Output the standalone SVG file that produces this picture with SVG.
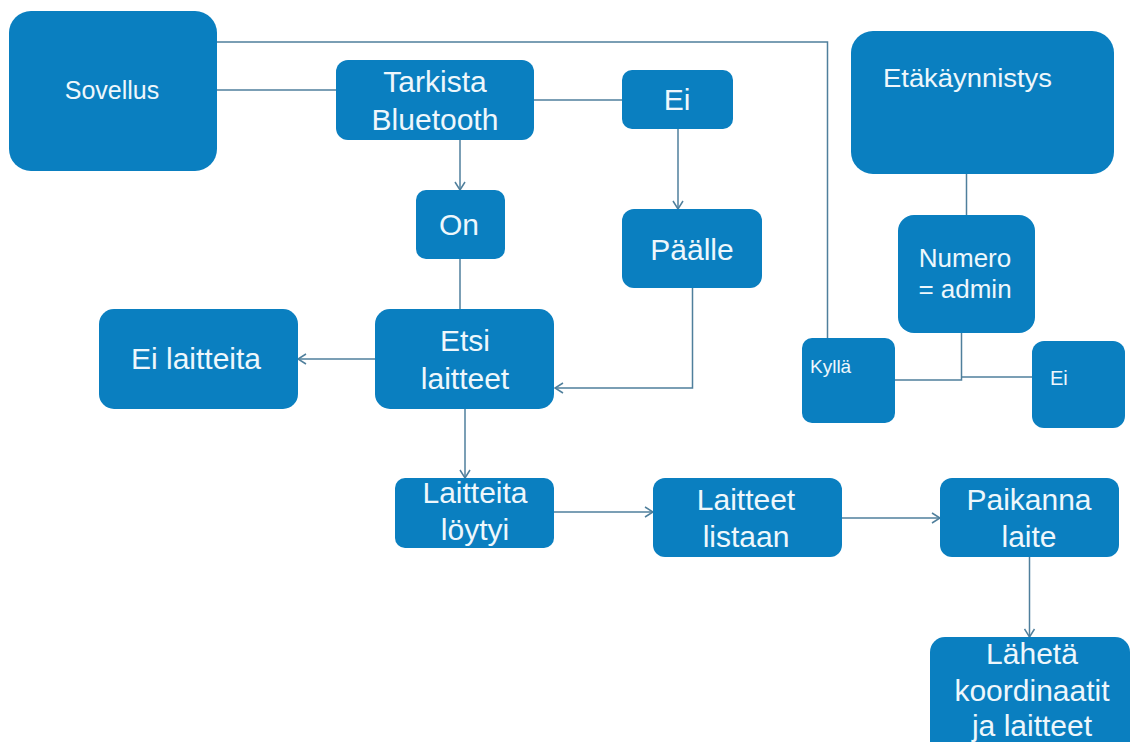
<svg xmlns="http://www.w3.org/2000/svg" width="1137" height="742" viewBox="0 0 1137 742">
  <style>
    .box { fill: #0a7fc0; }
    .lbl { font-family: "Liberation Sans", Arial, sans-serif; fill: #eef7fc; font-size: 30px; text-anchor: middle; }
    .start { text-anchor: start; }
    .sm { font-size: 19px; }
    .link { fill: none; stroke: #4f7f9c; stroke-width: 1.5; }
  </style>
  <defs>
    <marker id="arrow" viewBox="0 0 10 12" refX="9" refY="6" markerWidth="10" markerHeight="12" markerUnits="userSpaceOnUse" orient="auto">
      <path d="M1,1 L9,6 L1,11" fill="none" stroke="#4f7f9c" stroke-width="1.5"/>
    </marker>
  </defs>
  <rect width="1137" height="742" fill="#ffffff"/>

  <g id="connectors">
    <polyline class="link" points="217,42 827.5,42 827.5,338"/>
    <line class="link" x1="217" y1="90" x2="336" y2="90"/>
    <line class="link" x1="534" y1="100" x2="622" y2="100"/>
    <line class="link" x1="460" y1="140" x2="460" y2="190" marker-end="url(#arrow)"/>
    <line class="link" x1="678" y1="129" x2="678" y2="209" marker-end="url(#arrow)"/>
    <line class="link" x1="460" y1="259" x2="460" y2="309"/>
    <polyline class="link" points="692.5,288 692.5,388 555,388" marker-end="url(#arrow)"/>
    <line class="link" x1="375" y1="359" x2="298" y2="359" marker-end="url(#arrow)"/>
    <line class="link" x1="465" y1="409" x2="465" y2="478" marker-end="url(#arrow)"/>
    <line class="link" x1="554" y1="512" x2="653" y2="512" marker-end="url(#arrow)"/>
    <line class="link" x1="842" y1="518" x2="940" y2="518" marker-end="url(#arrow)"/>
    <line class="link" x1="1029.5" y1="557" x2="1029.5" y2="637" marker-end="url(#arrow)"/>
    <line class="link" x1="966.5" y1="174" x2="966.5" y2="215"/>
    <polyline class="link" points="895,380 961.5,380 961.5,333"/>
    <polyline class="link" points="961.5,377 1032,377"/>
  </g>

  <g id="sovellus">
    <rect class="box" x="9" y="11" width="208" height="160" rx="22"/>
    <text class="lbl" x="112" y="99" font-size="24" style="font-size:25px">Sovellus</text>
  </g>
  <g id="tarkista-bluetooth">
    <rect class="box" x="336" y="60" width="198" height="80" rx="12"/>
    <text class="lbl" x="435" y="92">Tarkista</text>
    <text class="lbl" x="435" y="130">Bluetooth</text>
  </g>
  <g id="on">
    <rect class="box" x="416" y="190" width="89" height="69" rx="10"/>
    <text class="lbl" x="459" y="235">On</text>
  </g>
  <g id="ei-bt">
    <rect class="box" x="622" y="70" width="111" height="59" rx="10"/>
    <text class="lbl" x="677" y="110">Ei</text>
  </g>
  <g id="paalle">
    <rect class="box" x="622" y="209" width="140" height="79" rx="12"/>
    <text class="lbl" x="692" y="260">Päälle</text>
  </g>
  <g id="etakaynnistys">
    <rect class="box" x="851" y="31" width="263" height="143" rx="22"/>
    <text class="lbl start" x="883" y="87" style="font-size:26px" textLength="169" lengthAdjust="spacingAndGlyphs">Etäkäynnistys</text>
  </g>
  <g id="numero-admin">
    <rect class="box" x="898" y="215" width="137" height="118" rx="16"/>
    <text class="lbl" x="965" y="267" style="font-size:26px">Numero</text>
    <text class="lbl" x="965" y="298" style="font-size:26px">= admin</text>
  </g>
  <g id="kylla">
    <rect class="box" x="802" y="338" width="93" height="85" rx="10"/>
    <text class="lbl start sm" x="810" y="373">Kyllä</text>
  </g>
  <g id="ei-admin">
    <rect class="box" x="1032" y="341" width="93" height="87" rx="12"/>
    <text class="lbl start sm" x="1050" y="385" style="font-size:20px">Ei</text>
  </g>
  <g id="ei-laitteita">
    <rect class="box" x="99" y="309" width="199" height="100" rx="15"/>
    <text class="lbl" x="196" y="369">Ei laitteita</text>
  </g>
  <g id="etsi-laitteet">
    <rect class="box" x="375" y="309" width="179" height="100" rx="15"/>
    <text class="lbl" x="465" y="351">Etsi</text>
    <text class="lbl" x="465" y="389">laitteet</text>
  </g>
  <g id="laitteita-loytyi">
    <rect class="box" x="395" y="478" width="159" height="70" rx="10"/>
    <text class="lbl" x="475" y="503">Laitteita</text>
    <text class="lbl" x="475" y="540">löytyi</text>
  </g>
  <g id="laitteet-listaan">
    <rect class="box" x="653" y="478" width="189" height="79" rx="12"/>
    <text class="lbl" x="746" y="510">Laitteet</text>
    <text class="lbl" x="746" y="547">listaan</text>
  </g>
  <g id="paikanna-laite">
    <rect class="box" x="940" y="478" width="179" height="79" rx="12"/>
    <text class="lbl" x="1029" y="510">Paikanna</text>
    <text class="lbl" x="1029" y="547">laite</text>
  </g>
  <g id="laheta">
    <rect class="box" x="930" y="637" width="200" height="125" rx="15"/>
    <text class="lbl" x="1032" y="664">Lähetä</text>
    <text class="lbl" x="1032" y="701">koordinaatit</text>
    <text class="lbl" x="1032" y="736">ja laitteet</text>
  </g>
</svg>
